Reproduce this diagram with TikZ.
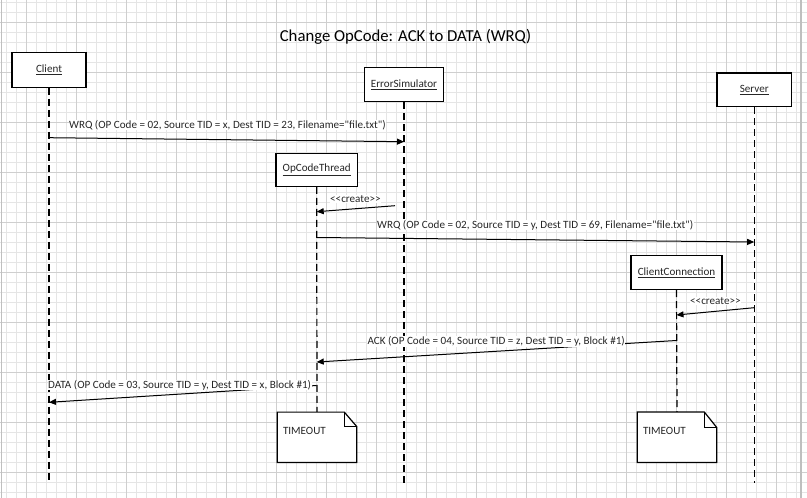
\documentclass[tikz,border=0pt]{standalone}
\usepackage{fontspec}
\newfontfamily\vfont{Carlito}
\usetikzlibrary{arrows.meta}
\tikzset{
  gridminor/.style={draw=black!10, line width=1pt},
  gridmajor/.style={draw=black!19, line width=1pt},
  gridborder/.style={draw=black!25, line width=1.2pt},
  lifebox/.style={draw=black, line width=1.2pt, fill=white, inner sep=0pt,
    font=\vfont\fontsize{11.1}{13}\selectfont, text=black!85},
  lifeline/.style={draw=black, line width=1.2pt, dash pattern=on 7pt off 4pt},
  msg/.style={draw=black, line width=1pt, -{Triangle[length=7pt,width=6pt]}},
  lbl/.style={font=\vfont\fontsize{11.1}{13}\selectfont, text=black!85, fill=white, inner sep=0.5pt},
  titletext/.style={font=\vfont\fontsize{16.7}{20}\selectfont, text=black, inner sep=0pt},
  notebox/.style={inner sep=0pt, minimum width=79pt, minimum height=50pt},
  notetext/.style={font=\vfont\fontsize{11.1}{13}\selectfont, text=black!85, inner sep=0pt},
  noteline/.style={draw=black, line width=1.2pt, fill=white}
}
\begin{document}
\begin{tikzpicture}[x=1pt,y=-1pt]
\useasboundingbox (0,0) rectangle (807,498);
\fill[white] (0,0) rectangle (807,498);
% grid
\foreach \gx in {6,16,...,796} \draw[gridminor] (\gx,0) -- (\gx,498);
\foreach \gy in {2.7,12.7,...,495} \draw[gridminor] (0,\gy) -- (807,\gy);
\foreach \gx in {26,76,...,776} \draw[gridmajor] (\gx,0) -- (\gx,498);
\foreach \gy in {22.7,72.7,...,495} \draw[gridmajor] (0,\gy) -- (807,\gy);
\draw[gridborder] (1.7,0) -- (1.7,498);
\draw[gridborder] (801,0) -- (801,498);

% title
\node[titletext] (title) at (405.5,37) {Change OpCode: ACK to DATA (WRQ)};

% participant boxes
\node[lifebox, minimum width=74pt, minimum height=34.5pt] (client) at (49,70) {\underline{Client}};
\node[lifebox, minimum width=79pt, minimum height=34.5pt] (errsim) at (404,84.5) {\underline{ErrorSimulator}};
\node[lifebox, minimum width=74.5pt, minimum height=33.5pt] (server) at (754.2,89.8) {\underline{Server}};
\node[lifebox, minimum width=81.5pt, minimum height=33pt] (opthread) at (316.7,169.7) {\underline{OpCodeThread}};
\node[lifebox, minimum width=91pt, minimum height=34pt] (clientconn) at (676.5,272.5) {\underline{ClientConnection}};

% notes
\node[notebox] (note1) at (317,437.3) {};
\node[notebox] (note2) at (677,437.2) {};

% lifeline ends
\coordinate (clientend) at (49,483);
\coordinate (errsimend) at (404,483);
\coordinate (serverend) at (754.2,483);

\draw[lifeline] (client.south) -- (clientend);
\draw[lifeline] (errsim.south) -- (errsimend);
\draw[lifeline] (server.south) -- (serverend);
\draw[lifeline] (opthread.south) -- (note1.north);
\draw[lifeline] (clientconn.south) -- (note2.north);

% note outlines
\draw[noteline] (note1.north west) -- ([xshift=-12.4pt]note1.north east) -- ([yshift=-14.4pt]note1.north east) -- (note1.south east) -- (note1.south west) -- cycle;
\draw[draw=black, line width=1pt] ([xshift=-12.4pt]note1.north east) -- ([xshift=-12.4pt,yshift=-14.4pt]note1.north east) -- ([yshift=-14.4pt]note1.north east);
\draw[noteline] (note2.north west) -- ([xshift=-12.4pt]note2.north east) -- ([yshift=-15.4pt]note2.north east) -- (note2.south east) -- (note2.south west) -- cycle;
\draw[draw=black, line width=1pt] ([xshift=-12.4pt]note2.north east) -- ([xshift=-12.4pt,yshift=-15.4pt]note2.north east) -- ([yshift=-15.4pt]note2.north east);
\node[notetext, anchor=west] (note1text) at ([xshift=5.5pt,yshift=-18.7pt]note1.north west) {TIMEOUT};
\node[notetext, anchor=west] (note2text) at ([xshift=5.5pt,yshift=-18.7pt]note2.north west) {TIMEOUT};

% message end points
\coordinate (m1a) at (49,137.7);   \coordinate (m1b) at (404,141.7);
\coordinate (m2a) at (395,205.7);  \coordinate (m2b) at (316.7,211.7);
\coordinate (m3a) at (316.7,237.5);\coordinate (m3b) at (754.2,242);
\coordinate (m4a) at (754.2,307.7);\coordinate (m4b) at (676.5,315);
\coordinate (m5a) at (676.5,340.5);\coordinate (m5b) at (316.7,362);
\coordinate (m6a) at (316.7,385.5);\coordinate (m6b) at (49,402.3);

\draw[msg] (m1a) -- (m1b);
\draw[msg] (m2a) -- (m2b);
\draw[msg] (m3a) -- (m3b);
\draw[msg] (m4a) -- (m4b);
\draw[msg] (m5a) -- (m5b);
\draw[msg] (m6a) -- (m6b);

% message labels
\node[lbl, anchor=west] (l1) at (68.5,125) {WRQ (OP Code = 02, Source TID = x, Dest TID = 23, Filename="file.txt")};
\node[lbl, anchor=west] (l2) at (329.5,199) {<{}<create>{}>};
\node[lbl, anchor=west] (l3) at (376.5,225) {WRQ (OP Code = 02, Source TID = y, Dest TID = 69, Filename="file.txt")};
\node[lbl, anchor=west] (l4) at (689.5,301) {<{}<create>{}>};
\node[lbl, anchor=east] (l5) at (625.5,341.5) {ACK (OP Code = 04, Source TID = z, Dest TID = y, Block \#1)};
\node[lbl, anchor=west] (l6) at (47.5,385) {DATA (OP Code = 03, Source TID = y, Dest TID = x, Block \#1)};
\end{tikzpicture}
\end{document}
